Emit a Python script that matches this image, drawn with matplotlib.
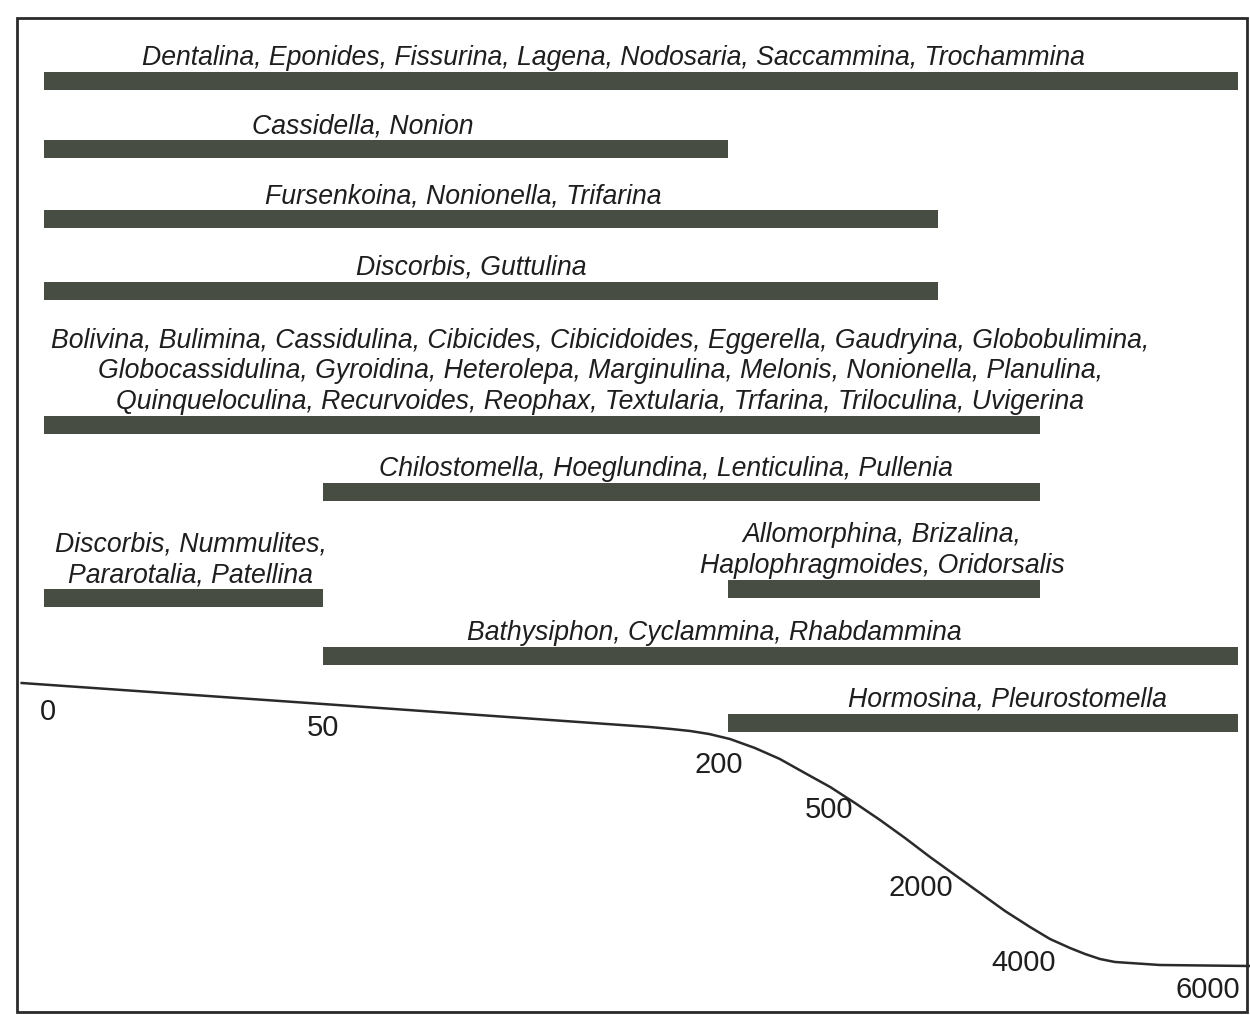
import numpy as np
import matplotlib
matplotlib.use("Agg")
import matplotlib.pyplot as plt
from matplotlib.patches import Rectangle

# genera and the depth range (m) where they occur
labels = [
    "Dentalina, Eponides, Fissurina, Lagena, Nodosaria, Saccammina, Trochammina",
    "Cassidella, Nonion",
    "Fursenkoina, Nonionella, Trifarina",
    "Discorbis, Guttulina",
    "Bolivina, Bulimina, Cassidulina, Cibicides, Cibicidoides, Eggerella, Gaudryina, Globobulimina,\n"
    "Globocassidulina, Gyroidina, Heterolepa, Marginulina, Melonis, Nonionella, Planulina,\n"
    "Quinqueloculina, Recurvoides, Reophax, Textularia, Trfarina, Triloculina, Uvigerina",
    "Chilostomella, Hoeglundina, Lenticulina, Pullenia",
    "Discorbis, Nummulites,\nPararotalia, Patellina",
    "Allomorphina, Brizalina,\nHaplophragmoides, Oridorsalis",
    "Bathysiphon, Cyclammina, Rhabdammina",
    "Hormosina, Pleurostomella",
]
depth_from = [0, 0, 0, 0, 0, 50, 0, 200, 50, 200]
depth_to = [6000, 200, 2000, 2000, 4000, 4000, 50, 4000, 6000, 6000]

# depth marks along the seafloor profile
depth_ticks = [0, 50, 200, 500, 2000, 4000, 6000]

# seafloor profile: depth (m) vs drawing row
profile_depth = [-4, 50, 171, 179, 186, 193, 205, 269, 333, 397, 462, 661, 1065, 1468,
                 1871, 2333, 2824, 3314, 3804, 4101, 4303, 4455, 4606, 4758, 4909, 5212, 6121]
profile_row = [683, 704, 727, 729, 731, 734, 739, 748, 759, 773, 787, 803, 820, 838,
               857, 875, 893, 911, 927, 939, 948, 954, 959, 962, 963, 965, 966]

# layout (pixels)
zone_px = [44, 323, 728, 845, 938, 1040, 1238]
row_y = [81, 149, 219, 291, 425, 492, 598, 589, 656, 723]
label_dx = [-28, -23, -28, -20, 58, -16, 7, -2, -66, 24]
tick_dx = [4, 0, -9, -16, -17, -16, -30]
tick_y = [712, 728, 765, 810, 888, 963, 990]

W, H = 1250, 1015


def fwd(d):
    d = np.asarray(d, dtype=float)
    p = np.interp(d, depth_ticks, zone_px)
    lo = (zone_px[1] - zone_px[0]) / (depth_ticks[1] - depth_ticks[0])
    hi = (zone_px[-1] - zone_px[-2]) / (depth_ticks[-1] - depth_ticks[-2])
    p = np.where(d < depth_ticks[0], zone_px[0] + (d - depth_ticks[0]) * lo, p)
    p = np.where(d > depth_ticks[-1], zone_px[-1] + (d - depth_ticks[-1]) * hi, p)
    return p


def inv(p):
    p = np.asarray(p, dtype=float)
    d = np.interp(p, zone_px, depth_ticks)
    lo = (depth_ticks[1] - depth_ticks[0]) / (zone_px[1] - zone_px[0])
    hi = (depth_ticks[-1] - depth_ticks[-2]) / (zone_px[-1] - zone_px[-2])
    d = np.where(p < zone_px[0], depth_ticks[0] + (p - zone_px[0]) * lo, d)
    d = np.where(p > zone_px[-1], depth_ticks[-1] + (p - zone_px[-1]) * hi, d)
    return d


bar_color = "#484d44"
text_color = "#1e1e1e"

fig = plt.figure(figsize=(W / 100, H / 100), dpi=100)
ax = fig.add_axes([0, 0, 1, 1])
ax.set_xscale("function", functions=(fwd, inv))
ax.set_xlim(float(inv(0)), float(inv(W)))
ax.set_ylim(H, 0)
ax.axis("off")

# frame
fig.patches.append(Rectangle((17 / W, 1 - 1012 / H), (1247 - 17) / W, (1012 - 18) / H,
                             transform=fig.transFigure, fill=False,
                             edgecolor="#2a2a2a", linewidth=2.0))

# range bars
ax.barh(row_y, np.array(depth_to) - np.array(depth_from), left=depth_from,
        height=18, color=bar_color, edgecolor="none")

for lab, d0, d1, y, dx in zip(labels, depth_from, depth_to, row_y, label_dx):
    mid = float(inv((fwd(d0) + fwd(d1)) / 2))
    ax.annotate(lab, xy=(mid, y - 16), xytext=(dx, 0), textcoords="offset pixels",
                ha="center", va="baseline", multialignment="center",
                fontsize=19.2, style="italic", family="Liberation Sans",
                color=text_color, linespacing=1.23)

# seafloor profile
ax.plot(profile_depth, profile_row, color="#2a2a2a", linewidth=1.8, clip_on=False,
        solid_joinstyle="round")

for d, y, dx in zip(depth_ticks, tick_y, tick_dx):
    ax.annotate(str(d), xy=(d, y), xytext=(dx, 0), textcoords="offset pixels",
                ha="center", va="center", fontsize=21, family="Liberation Sans",
                color=text_color)

fig.savefig("out.png", dpi=100, facecolor="white")
